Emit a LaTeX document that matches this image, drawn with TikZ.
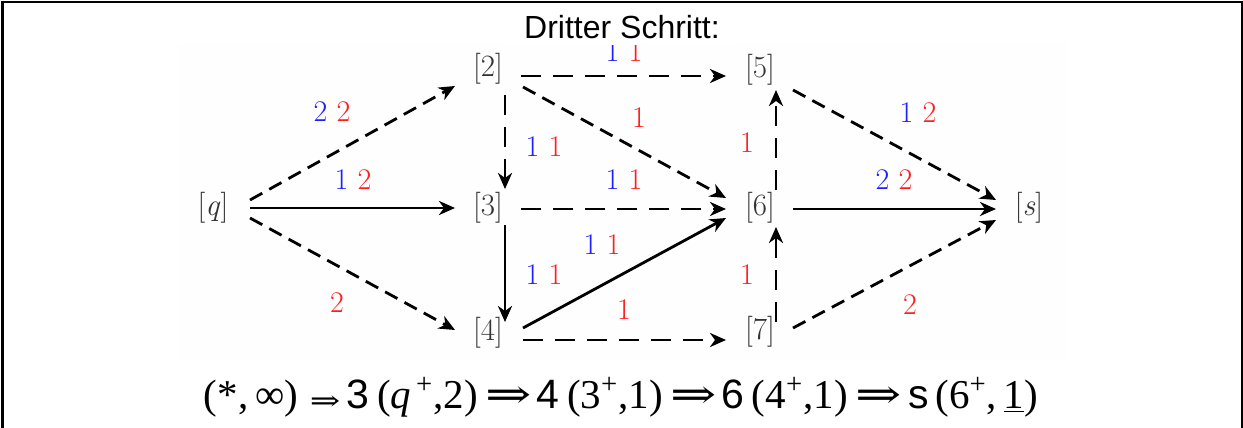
\documentclass[tikz,border=0pt]{standalone}
\usepackage{fontspec}
\usepackage{graphicx}
\usetikzlibrary{arrows.meta}
\newfontfamily\arialf{Liberation Sans}
\newfontfamily\tnrf{Liberation Serif}
\newfontfamily\dvsf{DejaVu Serif}
\definecolor{lblue}{RGB}{30,30,255}
\definecolor{lred}{RGB}{255,30,30}
\definecolor{offw}{RGB}{254,254,254}
\newcommand{\bl}[1]{\textcolor{lblue}{#1}}
\newcommand{\rd}[1]{\textcolor{lred}{#1}}
\newcommand{\bigimp}{{\dvsf\scalebox{1.35}[1.0]{⇒}}}
\newcommand{\smallimp}{\raisebox{-1pt}{\dvsf\fontsize{14}{16}\selectfont\scalebox{1.3}[1.0]{⇒}}}
\tikzset{
  vtx/.style={inner sep=0pt, outer sep=0pt, text=black!80, font=\fontsize{15.5}{18}\selectfont},
  lbl/.style={inner sep=0pt, font=\fontsize{15}{18}\selectfont},
  arr/.style={line width=1.4pt, -{Stealth[length=8pt,width=7pt,inset=2.5pt]}},
  dshort/.style={arr, dash pattern=on 7pt off 4pt},
  dlong/.style={arr, dash pattern=on 10pt off 6pt},
}
\begin{document}
\begin{tikzpicture}[x=0.5pt,y=-0.5pt]
\useasboundingbox (0,0) rectangle (1243,428);
% frame
\draw[line width=1.25pt] (2.5,428) -- (2.5,2) -- (1243,2);
\draw[line width=0.75pt] (1241.8,2) -- (1241.8,428);
% pasted image background
\fill[offw] (179,43) rectangle (1067,360);
% vertices
\node[vtx] (q)  at (213,208) {[\textit{q}]};
\node[vtx] (n2) at (488,69)  {[2]};
\node[vtx] (n3) at (488,208) {[3]};
\node[vtx] (n4) at (488,333) {[4]};
\node[vtx] (n5) at (760,70)  {[5]};
\node[vtx] (n6) at (760,208) {[6]};
\node[vtx] (n7) at (760,332) {[7]};
\node[vtx] (s)  at (1029,208) {[\textit{s}]};
% edges
\draw[dshort] ([shift={(37,-8)}]q.center) -- ([shift={(-33,17)}]n2.center);
\draw[arr]    ([shift={(37,0)}]q.center) -- ([shift={(-33,0)}]n3.center);
\draw[dshort] ([shift={(37,10)}]q.center) -- ([shift={(-33,-3)}]n4.center);
\draw[dlong]  ([shift={(33,7)}]n2.center) -- ([shift={(-34,6)}]n5.center);
\draw[dlong]  ([shift={(17,26)}]n2.center) -- ([shift={(17,-19)}]n3.center);
\draw[dshort] ([shift={(35,18)}]n2.center) -- ([shift={(-34,-10)}]n6.center);
\draw[dlong]  ([shift={(33,1)}]n3.center) -- ([shift={(-34,1)}]n6.center);
\draw[arr]    ([shift={(17,17)}]n3.center) -- ([shift={(17,-11)}]n4.center);
\draw[arr]    ([shift={(35,-5)}]n4.center) -- ([shift={(-34,10)}]n6.center);
\draw[dlong]  ([shift={(35,7)}]n4.center) -- ([shift={(-34,8)}]n7.center);
\draw[dlong]  ([shift={(16,-18)}]n6.center) -- ([shift={(16,20)}]n5.center);
\draw[arr]    ([shift={(33,1)}]n6.center) -- ([shift={(-33,1)}]s.center);
\draw[dlong]  ([shift={(16,-10)}]n7.center) -- ([shift={(16,19)}]n6.center);
\draw[dshort] ([shift={(33,20)}]n5.center) -- ([shift={(-33,-8)}]s.center);
\draw[dshort] ([shift={(33,-4)}]n7.center) -- ([shift={(-33,12)}]s.center);
% edge labels
\node[lbl] (l1)  at (332,112) {\bl{2} \rd{2}};
\node[lbl] (l2)  at (353,180) {\bl{1} \rd{2}};
\node[lbl] (l3)  at (337,303) {\rd{2}};
\node[lbl] (l4)  at (624,52)  {\bl{1} \rd{1}};
\node[lbl] (l5)  at (639,118) {\rd{1}};
\node[lbl] (l6)  at (544,147) {\bl{1} \rd{1}};
\node[lbl] (l7)  at (624,180) {\bl{1} \rd{1}};
\node[lbl] (l8)  at (602,245) {\bl{1} \rd{1}};
\node[lbl] (l9)  at (544,275) {\bl{1} \rd{1}};
\node[lbl] (l10) at (624,310) {\rd{1}};
\node[lbl] (l11) at (747,143) {\rd{1}};
\node[lbl] (l12) at (747,275) {\rd{1}};
\node[lbl] (l13) at (918,113) {\bl{1} \rd{2}};
\node[lbl] (l14) at (894,180) {\bl{2} \rd{2}};
\node[lbl] (l15) at (910,305) {\rd{2}};
% title with white box covering the top of the image
\fill[white] (505,4) rectangle (740,45);
\node[inner sep=0pt, font=\arialf\fontsize{16}{19}\selectfont] (title) at (622,27) {Dritter Schritt:};
% formula
\node[inner sep=0pt, font=\tnrf\fontsize{20.5}{24}\selectfont] (formula) at (621,397)
 {(*,\,∞)\hspace{6pt}\smallimp\hspace{3pt}{\arialf 3}\hspace{4pt}(\textit{q}\textsuperscript{\,+},2)\hspace{4pt}\bigimp\hspace{2pt}{\arialf 4}\hspace{4pt}(3\textsuperscript{+},1)\hspace{4pt}\bigimp\hspace{2pt}{\arialf 6}\hspace{4pt}(4\textsuperscript{+},1)\hspace{4pt}\bigimp\hspace{3pt}{\arialf s}\hspace{3.5pt}(6\textsuperscript{+},\,\underline{1})};
\end{tikzpicture}
\end{document}
